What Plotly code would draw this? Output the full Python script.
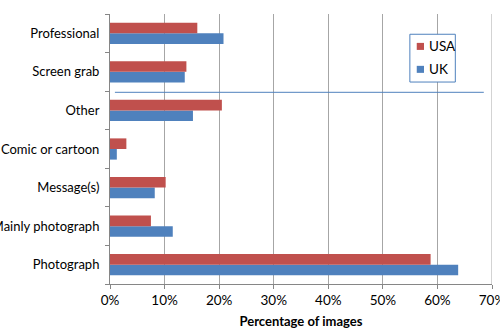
import plotly.graph_objects as go

categories = ["Photograph", "Mainly photograph", "Message(s)", "Comic or cartoon",
              "Other", "Screen grab", "Professional"]
usa = [58.75, 7.5, 10.2, 3.0, 20.5, 14.0, 16.0]
uk = [63.8, 11.5, 8.2, 1.25, 15.2, 13.7, 20.8]
x_ticks = [0, 10, 20, 30, 40, 50, 60, 70]
x_tick_labels = [f"{v}%" for v in x_ticks]
series_names = ["USA", "UK"]
series_colors = ["#C0504D", "#4F81BD"]

FONT = "Lato"
SIZE = 13
fig = go.Figure()
fig.add_trace(go.Bar(y=categories, x=uk, orientation="h", name="UK", showlegend=False,
                     marker=dict(color="#4F81BD", line=dict(width=0))))
fig.add_trace(go.Bar(y=categories, x=usa, orientation="h", name="USA", showlegend=False,
                     marker=dict(color="#C0504D", line=dict(width=0))))

# stray horizontal line
fig.add_shape(type="line", xref="x", yref="paper", x0=0.9, x1=68.5, y0=0.71, y1=0.71,
              line=dict(color="#4F81BD", width=1))
# right-edge 70% gridline
fig.add_shape(type="line", xref="x", yref="paper", x0=70, x1=70, y0=0, y1=1,
              line=dict(color="#A6A6A6", width=1), layer="below")

# manual legend (Excel-like compact box)
lx0, lx1, ly0, ly1 = 0.785, 0.904, 0.748, 0.925
fig.add_shape(type="rect", xref="paper", yref="paper", x0=lx0, x1=lx1, y0=ly0, y1=ly1,
              line=dict(color="#4F81BD", width=1), fillcolor="white")
for i, (nm, col) in enumerate(zip(series_names, series_colors)):
    yc = 0.88 - i * 0.085
    fig.add_shape(type="rect", xref="paper", yref="paper",
                  x0=0.803, x1=0.822, y0=yc - 0.013, y1=yc + 0.013,
                  line=dict(width=0), fillcolor=col)
    fig.add_annotation(xref="paper", yref="paper", x=0.83, y=yc, text=nm,
                       showarrow=False, xanchor="left", yanchor="middle",
                       font=dict(family=FONT, size=13.5, color="#000000"))

fig.update_layout(
    width=500, height=330,
    margin=dict(l=110, r=8, t=14, b=46, autoexpand=False),
    paper_bgcolor="white", plot_bgcolor="white",
    barmode="group", bargap=0.45, bargroupgap=0,
    font=dict(family=FONT, size=SIZE, color="#000000"),
    showlegend=False,
    xaxis=dict(range=[0, 70], tickvals=x_ticks, ticktext=x_tick_labels,
               showgrid=True, gridcolor="#A6A6A6", gridwidth=1,
               showline=True, linecolor="#868686", linewidth=1,
               ticks="outside", ticklen=4, tickcolor="#868686",
               zeroline=False, automargin=False, ticklabeloverflow="allow",
               tickfont=dict(size=13.5),
               title=dict(text="<b>Percentage of images</b>", standoff=9,
                          font=dict(family=FONT, size=13))),
    yaxis=dict(type="category", categoryorder="array", categoryarray=categories,
               showgrid=False, showline=True, linecolor="#868686", linewidth=1,
               ticks="outside", ticklen=4, tickcolor="#868686", tickson="boundaries",
               automargin=False, ticklabelstandoff=7),
)
fig.write_html("out.html")
